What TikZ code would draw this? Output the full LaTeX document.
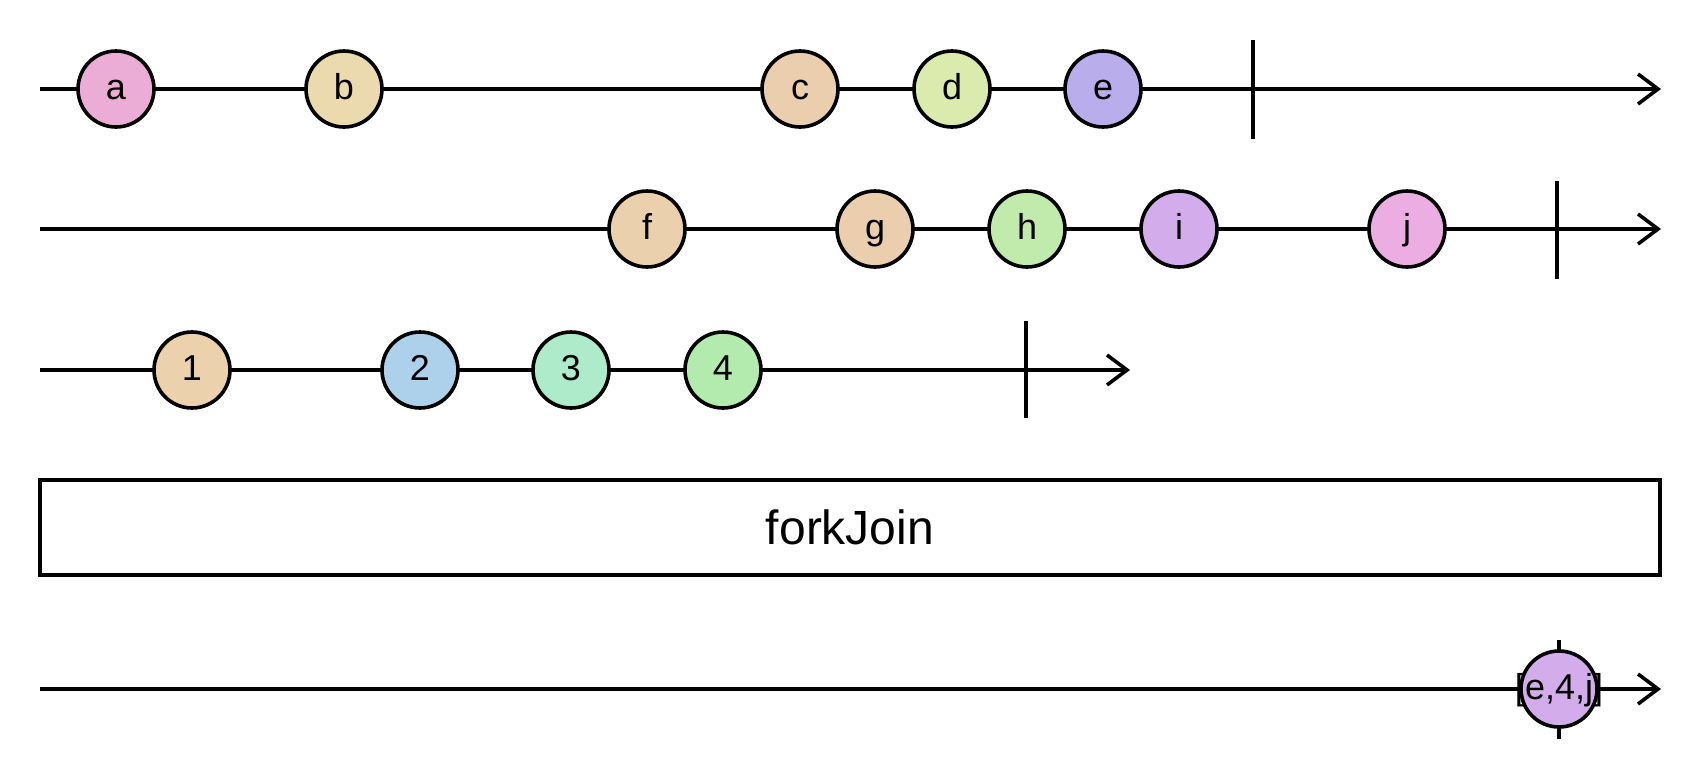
\documentclass[tikz,border=0pt]{standalone}
\usepackage{fontspec}
\setmainfont{Liberation Sans}
\usetikzlibrary{arrows.meta}
\definecolor{ca}{HTML}{EBADD6}
\definecolor{cb}{HTML}{EBDAAD}
\definecolor{cc}{HTML}{EBCEAD}
\definecolor{cd}{HTML}{DAEBAD}
\definecolor{ce}{HTML}{BAADEB}
\definecolor{cf}{HTML}{EBD0AD}
\definecolor{cg}{HTML}{EBCEAD}
\definecolor{ch}{HTML}{C1EBAD}
\definecolor{ci}{HTML}{D3ADEB}
\definecolor{cj}{HTML}{EBADE2}
\definecolor{c1}{HTML}{EBD2AD}
\definecolor{c2}{HTML}{ADD0EB}
\definecolor{c3}{HTML}{ADEBCA}
\definecolor{c4}{HTML}{B2EBAD}
\definecolor{cr}{HTML}{D3ADEB}
\tikzset{
  timeline/.style={line width=3.6pt, -{Straight Barb[length=20pt,width=30pt,line width=3.6pt]}},
  endtick/.style={line width=3.6pt},
  label text/.style={font=\fontsize{36}{43}\selectfont, text height=26pt, text depth=5pt},
  marble/.style={circle, draw, line width=3.6pt, minimum size=76pt, inner sep=0pt, label text},
  opbox/.style={draw, line width=3.8pt, minimum width=1620pt, minimum height=95pt,
    inner sep=0pt, font=\fontsize{48}{58}\selectfont},
}
\begin{document}
\begin{tikzpicture}[x=1pt,y=-1pt]
\useasboundingbox (0,0) rectangle (1700,780);

% first source
\coordinate (s1) at (40,89);
\coordinate (e1) at (1661,89);
\draw[timeline] (s1) -- (e1);
\coordinate (t1a) at (1253,40);
\coordinate (t1b) at (1253,139);
\draw[endtick] (t1a) -- (t1b);
\node[marble, fill=ca] (a) at (116,89) {a};
\node[marble, fill=cb] (b) at (344,89) {b};
\node[marble, fill=cc] (c) at (800,89) {c};
\node[marble, fill=cd] (d) at (952,89) {d};
\node[marble, fill=ce] (e) at (1103,89) {e};

% second source
\coordinate (s2) at (40,229);
\coordinate (e2) at (1661,229);
\draw[timeline] (s2) -- (e2);
\coordinate (t2a) at (1557,181);
\coordinate (t2b) at (1557,279);
\draw[endtick] (t2a) -- (t2b);
\node[marble, fill=cf] (f) at (647,229) {f};
\node[marble, fill=cg] (g) at (875,229) {g};
\node[marble, fill=ch] (h) at (1027,229) {h};
\node[marble, fill=ci] (i) at (1179,229) {i};
\node[marble, fill=cj] (j) at (1407,229) {j};

% third source
\coordinate (s3) at (40,370);
\coordinate (e3) at (1130,370);
\draw[timeline] (s3) -- (e3);
\coordinate (t3a) at (1026,321);
\coordinate (t3b) at (1026,418);
\draw[endtick] (t3a) -- (t3b);
\node[marble, fill=c1] (n1) at (192,370) {1};
\node[marble, fill=c2] (n2) at (420,370) {2};
\node[marble, fill=c3] (n3) at (571,370) {3};
\node[marble, fill=c4] (n4) at (723,370) {4};

% operator
\node[opbox] (op) at (850,527.5) {forkJoin};

% result
\coordinate (s4) at (40,689);
\coordinate (e4) at (1661,689);
\draw[timeline] (s4) -- (e4);
\coordinate (t4a) at (1559,640);
\coordinate (t4b) at (1559,739);
\draw[endtick] (t4a) -- (t4b);
\node[marble, fill=cr] (r) at (1559,689) {};
\node[label text, inner sep=0pt] (rl) at (r.center) {[e,4,j]};
\end{tikzpicture}
\end{document}
